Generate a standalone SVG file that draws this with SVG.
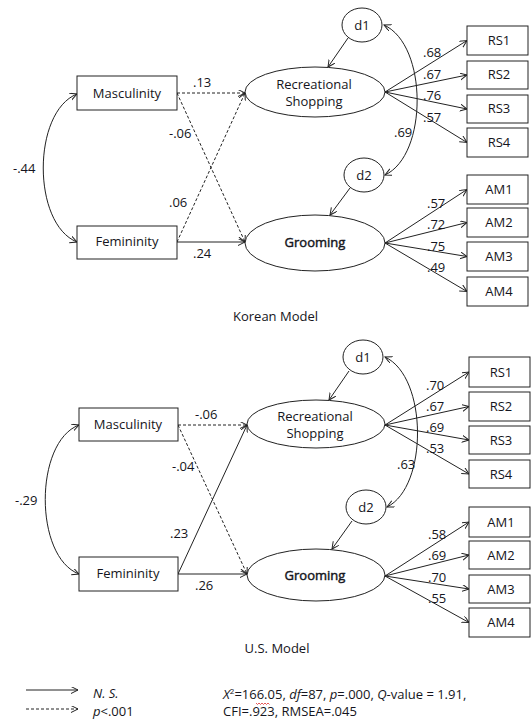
<svg xmlns="http://www.w3.org/2000/svg" width="531" height="722" viewBox="0 0 531 722">
<style>
text{font-family:"Open Sans","Noto Sans","Liberation Sans",sans-serif;font-size:13px;fill:#151520}
.c{text-anchor:middle}
.box{fill:#fff;stroke:#222;stroke-width:1}
.ell{fill:#fff;stroke:#222;stroke-width:1}
.ln{fill:none;stroke:#222;stroke-width:1;marker-end:url(#ah)}
.ds{stroke-dasharray:3 2}
.dbl{fill:none;stroke:#222;stroke-width:1;marker-start:url(#ah);marker-end:url(#ah)}
.bold{stroke:#151520;stroke-width:0.45}
.it{font-style:italic}
</style>
<defs>
<marker id="ah" markerUnits="userSpaceOnUse" markerWidth="9" markerHeight="8" refX="7" refY="3.5" orient="auto-start-reverse">
<path d="M0,0 L7,3.5 L0,7" fill="none" stroke="#222" stroke-width="1"/>
</marker>
</defs>

<g id="connectors">
<!-- Korean -->
<path class="dbl" d="M77,94 C32,112 32,224 77,242"/>
<path class="ln ds" d="M177,93 L245,93"/>
<path class="ln ds" d="M177,93 L245,242"/>
<path class="ln ds" d="M177,242 L245,93"/>
<path class="ln" d="M177,242 L245,242"/>
<path class="ln" d="M348,38 L328,67"/>
<path class="ln" d="M350,188 L330,215"/>
<path class="dbl" d="M384,25 C428,45 428,155 385,175"/>
<path class="ln" d="M385,92 L467,40.5"/>
<path class="ln" d="M385,92 L467,75"/>
<path class="ln" d="M385,92 L467,109"/>
<path class="ln" d="M385,92 L467,142.5"/>
<path class="ln" d="M385,243 L467,189.5"/>
<path class="ln" d="M385,243 L467,222.5"/>
<path class="ln" d="M385,243 L467,256.5"/>
<path class="ln" d="M385,243 L467,291.5"/>
<!-- US -->
<path class="dbl" d="M79,425 C34,442 34,557 79,574"/>
<path class="ln ds" d="M178,425 L247,425"/>
<path class="ln ds" d="M178,425 L247,574"/>
<path class="ln" d="M178,574 L247,425"/>
<path class="ln" d="M178,574 L247,574"/>
<path class="ln" d="M349,371 L329,400"/>
<path class="ln" d="M352,521 L332,549"/>
<path class="dbl" d="M385,357 C428,377 428,487 387,507"/>
<path class="ln" d="M385,425 L469,372"/>
<path class="ln" d="M385,425 L469,406.5"/>
<path class="ln" d="M385,425 L469,440"/>
<path class="ln" d="M385,425 L469,474"/>
<path class="ln" d="M385,576 L469,522"/>
<path class="ln" d="M385,576 L469,555"/>
<path class="ln" d="M385,576 L469,589"/>
<path class="ln" d="M385,576 L469,622.5"/>
<!-- legend -->
<path class="ln" d="M26,690 L78,690"/>
<path class="ln ds" d="M26,709 L78,709"/>
</g>

<g id="labels">
<text x="13" y="173">-.44</text>
<text x="193" y="87">.13</text>
<text x="169" y="138">-.06</text>
<text x="169" y="207">.06</text>
<text x="193" y="258">.24</text>
<text x="423" y="57">.68</text>
<text x="423" y="79">.67</text>
<text x="423" y="100">.76</text>
<text x="423" y="122">.57</text>
<text x="394" y="137">.69</text>
<text x="427" y="208">.57</text>
<text x="427" y="229">.72</text>
<text x="427" y="251">.75</text>
<text x="427" y="272">.49</text>
<text x="275.5" y="321" class="c">Korean Model</text>

<text x="15" y="505">-.29</text>
<text x="195" y="419">-.06</text>
<text x="172" y="471">-.04</text>
<text x="170" y="538">.23</text>
<text x="195" y="590">.26</text>
<text x="426" y="390">.70</text>
<text x="426" y="411">.67</text>
<text x="426" y="432">.69</text>
<text x="426" y="453">.53</text>
<text x="397" y="469">.63</text>
<text x="428" y="539">.58</text>
<text x="428" y="560">.69</text>
<text x="428" y="582">.70</text>
<text x="428" y="603">.55</text>
<text x="277" y="653" class="c">U.S. Model</text>
</g>

<g id="k-masculinity"><rect class="box" x="77" y="76" width="100" height="34"/><text x="127" y="98" class="c">Masculinity</text></g>
<g id="k-femininity"><rect class="box" x="77" y="226" width="100" height="33"/><text x="127" y="246" class="c">Femininity</text></g>
<g id="k-recreational"><ellipse class="ell" cx="315" cy="92" rx="70" ry="25"/><text x="314" y="89" class="c">Recreational</text><text x="314" y="106" class="c">Shopping</text></g>
<g id="k-grooming"><ellipse class="ell" cx="315" cy="243" rx="70" ry="28"/><text x="315" y="247" class="c bold">Grooming</text></g>
<g id="k-d1"><ellipse class="ell" cx="362" cy="25" rx="20" ry="17"/><text x="362" y="30" class="c">d1</text></g>
<g id="k-d2"><ellipse class="ell" cx="364" cy="175" rx="20" ry="17"/><text x="364" y="180" class="c">d2</text></g>
<g id="k-rs1"><rect class="box" x="467" y="26" width="61" height="29"/><text x="499" y="45" class="c">RS1</text></g>
<g id="k-rs2"><rect class="box" x="467" y="61" width="61" height="28"/><text x="499" y="79" class="c">RS2</text></g>
<g id="k-rs3"><rect class="box" x="467" y="95" width="61" height="28"/><text x="499" y="113" class="c">RS3</text></g>
<g id="k-rs4"><rect class="box" x="467" y="128" width="61" height="29"/><text x="499" y="147" class="c">RS4</text></g>
<g id="k-am1"><rect class="box" x="467" y="175" width="61" height="29"/><text x="499" y="194" class="c">AM1</text></g>
<g id="k-am2"><rect class="box" x="467" y="208" width="61" height="29"/><text x="499" y="227" class="c">AM2</text></g>
<g id="k-am3"><rect class="box" x="467" y="242" width="61" height="29"/><text x="499" y="261" class="c">AM3</text></g>
<g id="k-am4"><rect class="box" x="467" y="277" width="61" height="29"/><text x="499" y="296" class="c">AM4</text></g>

<g id="u-masculinity"><rect class="box" x="79" y="408" width="99" height="33"/><text x="128" y="429" class="c">Masculinity</text></g>
<g id="u-femininity"><rect class="box" x="79" y="557" width="99" height="34"/><text x="128" y="578" class="c">Femininity</text></g>
<g id="u-recreational"><ellipse class="ell" cx="316" cy="424" rx="69" ry="24"/><text x="315" y="421" class="c">Recreational</text><text x="315" y="438" class="c">Shopping</text></g>
<g id="u-grooming"><ellipse class="ell" cx="316" cy="575" rx="69" ry="26"/><text x="315" y="580" class="c bold">Grooming</text></g>
<g id="u-d1"><ellipse class="ell" cx="363" cy="357" rx="20" ry="17"/><text x="363" y="362" class="c">d1</text></g>
<g id="u-d2"><ellipse class="ell" cx="366" cy="507" rx="20" ry="17"/><text x="366" y="512" class="c">d2</text></g>
<g id="u-rs1"><rect class="box" x="469" y="357" width="61" height="30"/><text x="501" y="377" class="c">RS1</text></g>
<g id="u-rs2"><rect class="box" x="469" y="392" width="61" height="29"/><text x="501" y="411" class="c">RS2</text></g>
<g id="u-rs3"><rect class="box" x="469" y="426" width="61" height="28"/><text x="501" y="445" class="c">RS3</text></g>
<g id="u-rs4"><rect class="box" x="469" y="460" width="61" height="28"/><text x="501" y="479" class="c">RS4</text></g>
<g id="u-am1"><rect class="box" x="469" y="507" width="61" height="30"/><text x="501" y="527" class="c">AM1</text></g>
<g id="u-am2"><rect class="box" x="469" y="541" width="61" height="28"/><text x="501" y="560" class="c">AM2</text></g>
<g id="u-am3"><rect class="box" x="469" y="575" width="61" height="28"/><text x="501" y="594" class="c">AM3</text></g>
<g id="u-am4"><rect class="box" x="469" y="608" width="61" height="29"/><text x="501" y="627" class="c">AM4</text></g>

<g id="legend">
<text x="93" y="698" class="it">N. S.</text>
<text x="93" y="716"><tspan class="it">p</tspan>&lt;.001</text>
<text x="223" y="699"><tspan class="it">X</tspan><tspan font-size="8" dy="-5">2</tspan><tspan dy="5">=166.05, </tspan><tspan class="it">df</tspan>=87, <tspan class="it">p</tspan>=.000, <tspan class="it">Q</tspan>-value = 1.91,</text>
<text x="223" y="716">CFI=.923, RMSEA=.045</text>
<path d="M256,703 l1.5,1.5 l1.5,-1.5 l1.5,1.5 l1.5,-1.5 l1.5,1.5 l1.5,-1.5 l1.5,1.5 l1.5,-1.5 l1.5,1.5" fill="none" stroke="#e03030" stroke-width="0.8"/>
</g>
</svg>
